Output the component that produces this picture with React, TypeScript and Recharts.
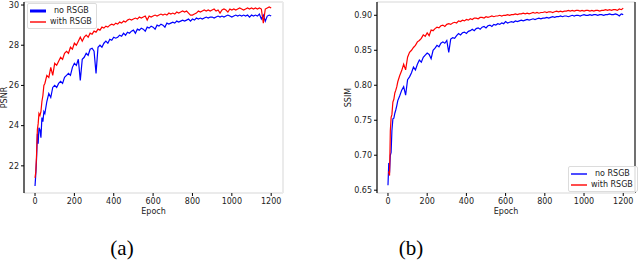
import React from 'react';
import { LineChart, Line, XAxis, YAxis, ReferenceLine, Legend } from 'recharts';

// epochs sampled from the training curves
const epochs = [
  0, 4, 8, 12, 16, 20, 25, 30, 35, 40, 45, 50,
  60, 70, 80, 90, 100, 110, 120, 130, 140, 150,
  160, 170, 180, 190, 200, 210, 220, 230, 240, 250,
  260, 270, 280, 290, 300, 310, 320, 330, 340, 350,
  360, 370, 380, 390, 400, 410, 420, 430, 440, 450,
  460, 470, 480, 490, 500, 510, 520, 530, 540, 550,
  560, 570, 580, 590, 600, 610, 620, 630, 640, 650,
  660, 670, 680, 690, 700, 710, 720, 730, 740, 750,
  760, 770, 780, 790, 800, 810, 820, 830, 840, 850,
  860, 870, 880, 890, 900, 910, 920, 930, 940, 950,
  960, 970, 980, 990, 1000, 1010, 1020, 1030, 1040, 1050,
  1060, 1070, 1080, 1090, 1100, 1110, 1120, 1130, 1140, 1150,
  1160, 1170, 1180, 1190, 1200,
];

const psnrNoRsgb = [
  21.0, 21.6, 22.4, 23.6, 23.1, 23.9, 23.8, 23.4, 24.4, 24.2, 24.7, 24.6,
  25.2, 25.6, 25.4, 25.9, 26.0, 25.9, 26.1, 26.2, 26.1, 26.4,
  26.5, 26.6, 26.5, 26.9, 27.1, 27.0, 27.3, 26.25, 27.3, 27.4,
  27.6, 27.5, 27.8, 27.85, 27.7, 26.6, 27.9, 28.0, 27.9, 28.1,
  28.2, 28.1, 28.3, 28.25, 28.4, 28.35, 28.4, 28.5, 28.45, 28.6,
  28.5, 28.65, 28.6, 28.7, 28.75, 28.6, 28.8, 28.75, 28.85, 28.8,
  28.7, 28.9, 28.85, 28.95, 28.9, 28.8, 29.0, 28.95, 29.05, 29.0,
  28.9, 29.1, 29.05, 29.1, 29.15, 29.1, 29.2, 29.15, 29.2, 29.25,
  29.2, 29.25, 29.3, 29.2, 29.3, 29.25, 29.35, 29.3, 29.35, 29.3,
  29.35, 29.4, 29.35, 29.4, 29.4, 29.35, 29.4, 29.45, 29.4, 29.45,
  29.4, 29.45, 29.5, 29.45, 29.4, 29.45, 29.5, 29.45, 29.5, 29.45,
  29.5, 29.45, 29.5, 29.4, 29.5, 29.45, 29.5, 29.45, 29.55, 29.3,
  29.5, 29.2, 29.45, 29.5, 29.45,
];

const psnrWithRsgb = [
  21.4, 21.7, 22.6, 23.8, 24.1, 24.6, 24.5, 24.7, 25.2, 25.5, 26.0, 26.1,
  26.5, 26.4, 26.9, 26.5, 27.1, 27.0, 27.2, 27.4, 27.3, 27.6,
  27.7, 27.6, 27.9, 27.8, 28.1, 28.0, 28.2, 28.4, 28.2, 28.4,
  28.5, 28.4, 28.6, 28.55, 28.7, 28.65, 28.8, 28.75, 28.9, 28.85,
  28.95, 28.9, 29.0, 29.05, 29.0, 29.1, 29.05, 29.15, 29.1, 29.2,
  29.15, 29.25, 29.3, 29.25, 29.3, 29.35, 29.3, 29.4, 29.35, 29.4,
  29.45, 29.25, 29.45, 29.4, 29.45, 29.5, 29.45, 29.5, 29.55, 29.5,
  29.55, 29.5, 29.6, 29.55, 29.6, 29.55, 29.65, 29.6, 29.65, 29.7,
  29.65, 29.7, 29.6, 29.5, 29.5, 29.55, 29.6, 29.7, 29.65, 29.7,
  29.75, 29.7, 29.75, 29.7, 29.75, 29.8, 29.7, 29.75, 29.6, 29.75,
  29.8, 29.75, 29.65, 29.8, 29.75, 29.8, 29.75, 29.8, 29.85, 29.8,
  29.75, 29.8, 29.85, 29.8, 29.85, 29.8, 29.85, 29.8, 29.85, 29.8,
  29.1, 29.8, 29.85, 29.9, 29.85,
];

const ssimNoRsgb = [
  0.657, 0.689, 0.675, 0.700, 0.704, 0.735, 0.752, 0.753, 0.760, 0.765, 0.771, 0.778,
  0.785, 0.793, 0.798, 0.786, 0.808, 0.812, 0.818, 0.826, 0.822, 0.830,
  0.836, 0.833, 0.840, 0.843, 0.846, 0.844, 0.838, 0.850, 0.853, 0.857,
  0.855, 0.860, 0.862, 0.860, 0.864, 0.847, 0.866, 0.868, 0.867, 0.871,
  0.874, 0.872, 0.875, 0.876, 0.874, 0.877, 0.878, 0.880, 0.878, 0.881,
  0.882, 0.880, 0.883, 0.884, 0.882, 0.885, 0.886, 0.884, 0.887, 0.886,
  0.888, 0.887, 0.889, 0.888, 0.891, 0.889, 0.890, 0.891, 0.890, 0.892,
  0.891, 0.892, 0.893, 0.892, 0.893, 0.894, 0.893, 0.894, 0.895, 0.894,
  0.895, 0.896, 0.895, 0.896, 0.896, 0.897, 0.896, 0.897, 0.898, 0.897,
  0.898, 0.898, 0.899, 0.898, 0.899, 0.899, 0.898, 0.899, 0.900, 0.899,
  0.900, 0.900, 0.899, 0.900, 0.901, 0.900, 0.900, 0.901, 0.900, 0.901,
  0.901, 0.900, 0.901, 0.901, 0.900, 0.901, 0.901, 0.902, 0.901, 0.901,
  0.902, 0.901, 0.899, 0.902, 0.901,
];

const ssimWithRsgb = [
  0.676, 0.676, 0.671, 0.735, 0.754, 0.758, 0.776, 0.780, 0.789, 0.793, 0.798, 0.805,
  0.814, 0.821, 0.830, 0.822, 0.840, 0.847, 0.850, 0.854, 0.857, 0.862,
  0.864, 0.867, 0.872, 0.870, 0.875, 0.871, 0.879, 0.878, 0.881, 0.883,
  0.882, 0.885, 0.886, 0.884, 0.887, 0.888, 0.887, 0.889, 0.890, 0.889,
  0.892, 0.891, 0.893, 0.892, 0.894, 0.893, 0.895, 0.894, 0.896, 0.896,
  0.895, 0.897, 0.897, 0.896, 0.898, 0.897, 0.898, 0.899, 0.898, 0.899,
  0.899, 0.900, 0.899, 0.900, 0.900, 0.901, 0.900, 0.901, 0.901, 0.902,
  0.901, 0.902, 0.902, 0.903, 0.902, 0.903, 0.902, 0.903, 0.904, 0.903,
  0.904, 0.903, 0.904, 0.904, 0.905, 0.904, 0.905, 0.905, 0.904, 0.905,
  0.906, 0.905, 0.906, 0.905, 0.906, 0.906, 0.907, 0.906, 0.907, 0.906,
  0.907, 0.907, 0.906, 0.907, 0.906, 0.907, 0.907, 0.906, 0.907, 0.906,
  0.907, 0.907, 0.906, 0.907, 0.907, 0.908, 0.907, 0.908, 0.907, 0.908,
  0.908, 0.907, 0.909, 0.908, 0.910,
];

const epochTicks = [0, 200, 400, 600, 800, 1000, 1200];
const psnrTicks = [22, 24, 26, 28, 30];
const ssimTicks = [0.65, 0.7, 0.75, 0.8, 0.85, 0.9];

const psnrData = epochs.map((epoch, i) => ({
  epoch,
  noRsgb: psnrNoRsgb[i],
  withRsgb: psnrWithRsgb[i],
}));

const ssimData = epochs.map((epoch, i) => ({
  epoch,
  noRsgb: ssimNoRsgb[i],
  withRsgb: ssimWithRsgb[i],
}));

const FONT = 'DejaVu Sans, sans-serif';
const BLUE = '#0000ff';
const RED = '#ff0000';
const FRAME = '#ebebeb';

const tickStyle = { fontSize: 8, fill: '#222', fontFamily: FONT };

const LegendBox = ({ thickBlue }: { thickBlue: boolean }) => (
  <div
    style={{
      border: '1px solid #dcdcdc',
      borderRadius: 2,
      background: 'rgba(255,255,255,0.85)',
      padding: '1px 4px 1px 2px',
      fontFamily: FONT,
      fontSize: 8,
      color: '#222',
      lineHeight: '11px',
    }}
  >
    {[
      { label: 'no RSGB', color: BLUE, w: thickBlue ? 3 : 1.4, pad: 8 },
      { label: 'with RSGB', color: RED, w: 1.4, pad: 4 },
    ].map((e) => (
      <div key={e.label} style={{ display: 'flex', alignItems: 'center', whiteSpace: 'nowrap' }}>
        <svg width={16} height={6} style={{ marginRight: e.pad, display: 'block' }}>
          <line x1={0} y1={3} x2={16} y2={3} stroke={e.color} strokeWidth={e.w} />
        </svg>
        <span>{e.label}</span>
      </div>
    ))}
  </div>
);

const captionStyle: React.CSSProperties = {
  position: 'absolute',
  top: 236,
  transform: 'translateX(-50%)',
  fontFamily: 'Liberation Serif, serif',
  fontSize: 21,
  color: '#000',
};

const App: React.FC = () => {
  return (
    <div
      style={{
        position: 'absolute',
        left: 0,
        top: 0,
        width: 638,
        height: 260,
        background: '#fff',
        overflow: 'hidden',
      }}
    >
      <div style={{ position: 'absolute', left: 0, top: 0 }}>
        <LineChart width={290} height={222} data={psnrData} margin={{ top: 2, right: 7, bottom: 0, left: 2 }}>
          <XAxis
            dataKey="epoch"
            type="number"
            domain={[-56, 1260]}
            ticks={epochTicks}
            allowDataOverflow
            tickSize={3}
            height={29}
            axisLine={{ stroke: FRAME, strokeWidth: 2 }}
            tickLine={{ stroke: '#000' }}
            tick={tickStyle}
            label={{ value: 'Epoch', position: 'insideBottom', offset: 8, fontSize: 8, fill: '#222', fontFamily: FONT }}
          />
          <YAxis
            type="number"
            domain={[20.65, 30.15]}
            ticks={psnrTicks}
            allowDataOverflow
            width={22}
            tickSize={3}
            axisLine={{ stroke: '#000', strokeWidth: 1.2 }}
            tickLine={{ stroke: '#000' }}
            tick={tickStyle}
            label={{ value: 'PSNR', angle: -90, position: 'center', dx: -9, fontSize: 8, fill: '#222', fontFamily: FONT }}
          />
          <ReferenceLine y={30.15} stroke={FRAME} strokeWidth={2} />
          <ReferenceLine x={1260} stroke={FRAME} strokeWidth={2} />
          <Line type="linear" dataKey="noRsgb" stroke={BLUE} strokeWidth={1.2} dot={false} isAnimationActive={false} />
          <Line type="linear" dataKey="withRsgb" stroke={RED} strokeWidth={1.2} dot={false} isAnimationActive={false} />
          <Legend
            layout="vertical"
            align="center"
            verticalAlign="middle"
            wrapperStyle={{ left: 27, top: 3, width: 'auto', height: 'auto' }}
            content={() => <LegendBox thickBlue />}
          />
        </LineChart>
      </div>

      <div style={{ position: 'absolute', left: 331, top: 0 }}>
        <LineChart width={306} height={222} data={ssimData} margin={{ top: 2, right: 2, bottom: 0, left: 1 }}>
          <XAxis
            dataKey="epoch"
            type="number"
            domain={[-56, 1260]}
            ticks={epochTicks}
            allowDataOverflow
            tickSize={3}
            height={29}
            axisLine={{ stroke: FRAME, strokeWidth: 2 }}
            tickLine={{ stroke: '#000' }}
            tick={tickStyle}
            label={{ value: 'Epoch', position: 'insideBottom', offset: 8, fontSize: 8, fill: '#222', fontFamily: FONT }}
          />
          <YAxis
            type="number"
            domain={[0.646, 0.919]}
            ticks={ssimTicks}
            allowDataOverflow
            width={45}
            tickSize={3}
            tickFormatter={(v: number) => v.toFixed(2)}
            axisLine={{ stroke: '#000', strokeWidth: 1.2 }}
            tickLine={{ stroke: '#000' }}
            tick={tickStyle}
            label={{ value: 'SSIM', angle: -90, position: 'center', dx: -6, fontSize: 8, fill: '#222', fontFamily: FONT }}
          />
          <ReferenceLine y={0.919} stroke={FRAME} strokeWidth={2} />
          <ReferenceLine x={1260} stroke="#111" strokeWidth={1.2} />
          <Line type="linear" dataKey="noRsgb" stroke={BLUE} strokeWidth={1.2} dot={false} isAnimationActive={false} />
          <Line type="linear" dataKey="withRsgb" stroke={RED} strokeWidth={1.2} dot={false} isAnimationActive={false} />
          <Legend
            layout="vertical"
            align="center"
            verticalAlign="middle"
            wrapperStyle={{ left: 237, top: 166, width: 'auto', height: 'auto' }}
            content={() => <LegendBox thickBlue={false} />}
          />
        </LineChart>
      </div>

      <div style={{ ...captionStyle, left: 122 }}>(a)</div>
      <div style={{ ...captionStyle, left: 411 }}>(b)</div>
    </div>
  );
};

export default App;
